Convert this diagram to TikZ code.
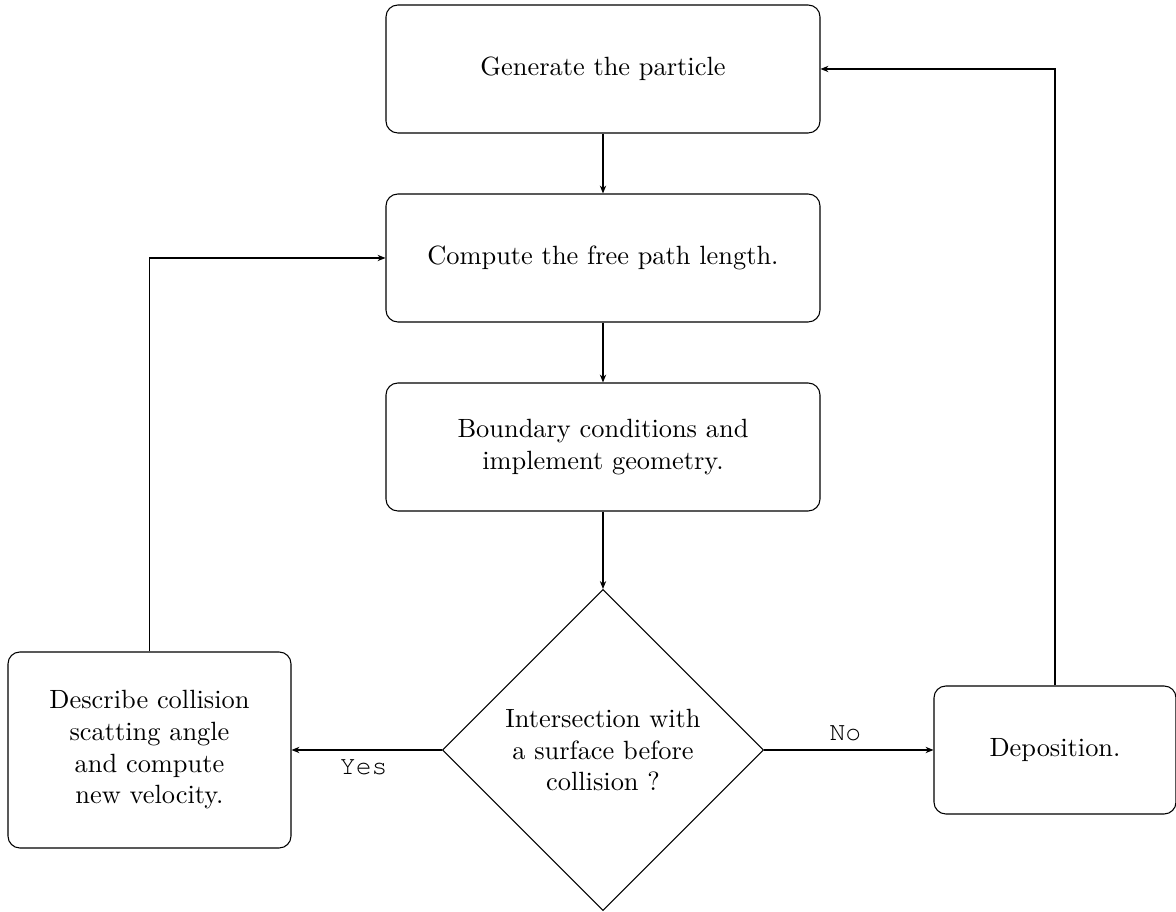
\documentclass[tikz,border=0pt]{standalone}
\usepackage[T1,TU]{fontenc}
\usetikzlibrary{shapes.geometric,arrows.meta}
\begin{document}
\begin{tikzpicture}[x=0.379pt,y=-0.379pt,
  box/.style={draw,rounded corners=4.5pt,align=center,inner sep=0pt},
  mainbox/.style={box,minimum width=434*0.379pt,minimum height=128*0.379pt},
  dec/.style={draw,diamond,aspect=1,inner sep=0pt,align=center,minimum size=321*0.379pt},
  arr/.style={-{Stealth[length=3pt,width=2.4pt]}},
  lbl/.style={font=\fontencoding{T1}\fontfamily{pcr}\selectfont}]
\useasboundingbox (0,0) rectangle (1176,912);
\node[mainbox] (gen) at (603,69) {Generate the particle};
\node[mainbox] (comp) at (603,258) {Compute the free path length.};
\node[mainbox] (bound) at (603,447) {Boundary conditions and\\implement geometry.};
\node[dec] (dec) at (603,750) {Intersection with\\a surface before\\collision ?};
\node[box,minimum width=283*0.379pt,minimum height=196*0.379pt] (coll) at (149.5,750) {Describe collision\\scatting angle\\and compute\\new velocity.};
\node[box,minimum width=242*0.379pt,minimum height=128*0.379pt] (dep) at (1055,750) {Deposition.};
\draw[arr] (gen) -- (comp);
\draw[arr] (comp) -- (bound);
\draw[arr] (bound) -- (dec);
\draw[arr] (dec) -- node[lbl,below,pos=0.52] {Yes} (coll);
\draw[arr] (dec) -- node[lbl,above,pos=0.48] {No} (dep);
\draw[arr] (coll.north) |- (comp.west);
\draw[arr] (dep.north) |- (gen.east);
\end{tikzpicture}
\end{document}
